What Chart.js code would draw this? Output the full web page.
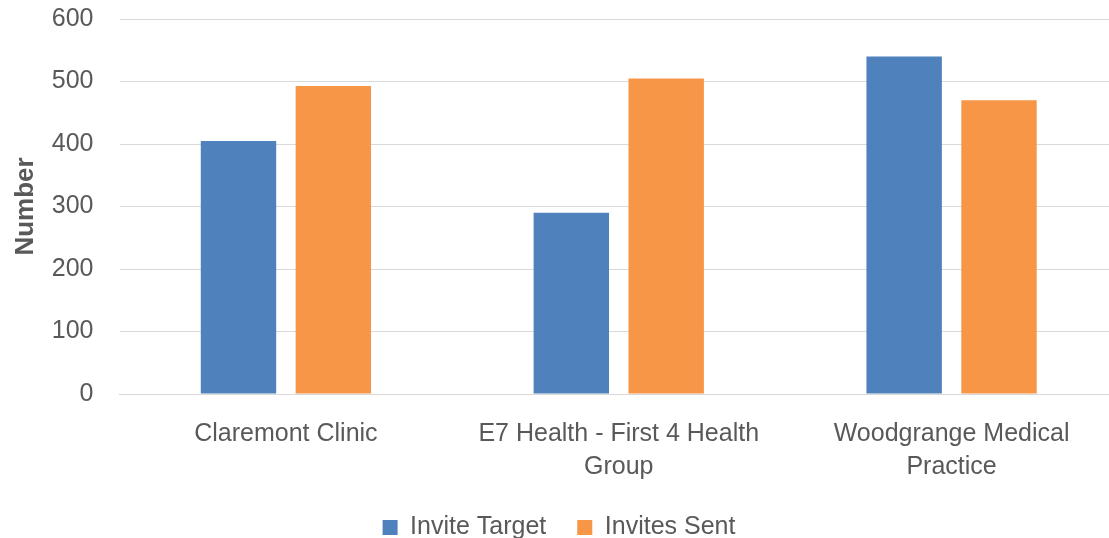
<!DOCTYPE html>
<html>
<head>
<meta charset="utf-8">
<script src="https://cdn.jsdelivr.net/npm/chart.js@4.4.0/dist/chart.umd.min.js"></script>
<style>
html,body{margin:0;padding:0;background:#fff;overflow:hidden;width:1109px;height:538px;}
#wrap{width:1119px;height:538px;}
</style>
</head>
<body>
<div id="wrap"><canvas id="c" width="1119" height="538"></canvas></div>
<script>
const categories = [
  "Claremont Clinic",
  ["E7 Health - First 4 Health", "Group"],
  ["Woodgrange Medical", "Practice"]
];
const inviteTarget = [405, 290, 540];
const invitesSent = [493, 505, 470];
const seriesNames = ["Invite Target", "Invites Sent"];
const yAxisTitle = "Number";

const FONT = "'Liberation Sans', Arial, sans-serif";
const GRAY = "#595959";

new Chart(document.getElementById('c'), {
  type: 'bar',
  data: {
    labels: categories,
    datasets: [
      { label: seriesNames[0], data: inviteTarget, backgroundColor: '#4F81BD', borderWidth: 0 },
      { label: seriesNames[1], data: invitesSent, backgroundColor: '#F79646', borderWidth: 0 }
    ]
  },
  options: {
    responsive: false,
    animation: false,
    devicePixelRatio: 1,
    categoryPercentage: 0.57,
    barPercentage: 0.795,
    layout: { padding: { top: 19, left: 0, right: 1, bottom: 0 } },
    plugins: {
      tooltip: { enabled: false },
      legend: {
        position: 'bottom',
        maxHeight: 54,
        labels: {
          color: GRAY,
          font: { family: FONT, size: 25 },
          boxWidth: 15,
          boxHeight: 15,
          padding: 31
        }
      }
    },
    scales: {
      x: {
        grid: { display: false, drawTicks: false },
        border: { display: true, color: '#D9D9D9', width: 1 },
        ticks: {
          color: GRAY,
          font: { family: FONT, size: 25, lineHeight: 1.32 },
          padding: 24,
          maxRotation: 0,
          autoSkip: false
        },
        afterFit: (s) => { s.height = 90; }
      },
      y: {
        min: 0,
        max: 600,
        grid: { color: '#D9D9D9', lineWidth: 1, drawTicks: false },
        border: { display: false },
        ticks: {
          stepSize: 100,
          color: GRAY,
          font: { family: FONT, size: 25 },
          padding: 26
        },
        title: {
          display: true,
          text: yAxisTitle,
          color: GRAY,
          font: { family: FONT, size: 26, weight: 'bold' },
          padding: { top: 10, bottom: 0 }
        },
        afterFit: (s) => { s.width = 119.5; s.paddingTop = 0; s.paddingBottom = 0; }
      }
    }
  }
});
</script>
</body>
</html>
